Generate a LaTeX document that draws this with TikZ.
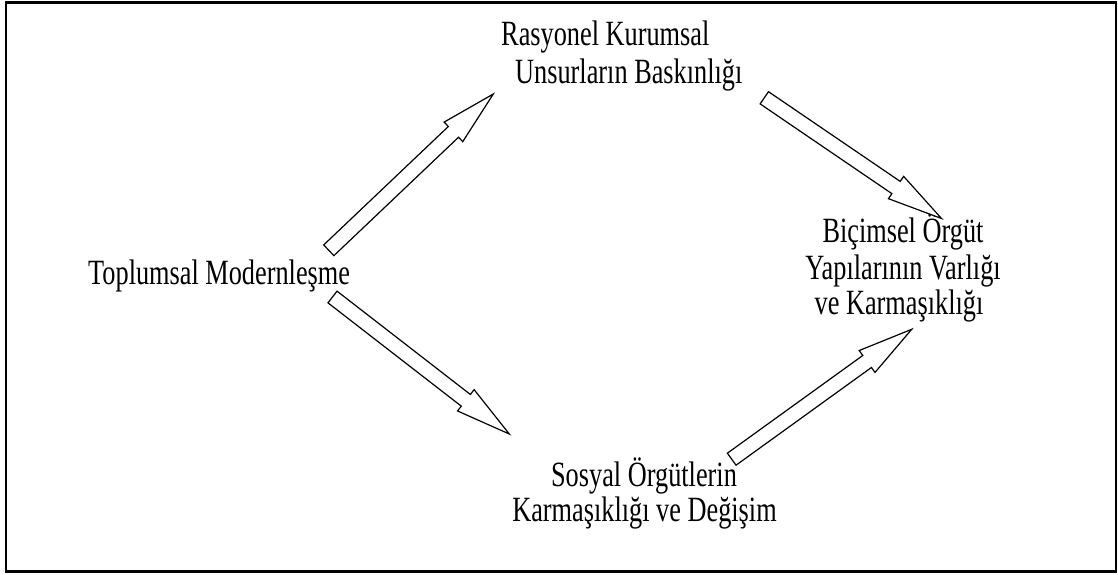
\documentclass[tikz,border=0pt]{standalone}
\usepackage{fontspec}
\usepackage{graphicx}
\setmainfont{Liberation Serif}
\usetikzlibrary{calc}
\newcommand\tall[1]{\scalebox{1}[1.35]{#1}}
% block arrow from tail coordinate #1 to tip coordinate #2
\newcommand\blockarrow[2]{%
  \coordinate (hb) at ($(#2)!55pt!(#1)$);
  \draw[barrow]
    ($(#1)!7.4pt!90:(#2)$) --
    ($(hb)!7.4pt!-90:(#1)$) --
    ($(hb)!13.5pt!-90:(#1)$) --
    (#2) --
    ($(hb)!13.5pt!90:(#1)$) --
    ($(hb)!7.4pt!90:(#1)$) --
    ($(#1)!7.4pt!-90:(#2)$) -- cycle;}
\begin{document}
\begin{tikzpicture}[x=1pt,y=1pt,
  lbl/.style={inner sep=0pt, font=\fontsize{26.3}{27}\selectfont},
  barrow/.style={draw=black, fill=white, line width=1.2pt, line join=miter},
  frame/.style={draw=black, line width=2.5pt}]
\useasboundingbox (0,0) rectangle (1118,575);
\draw[frame] (6,572.5) rectangle (1116,3.5);

% labels
\node[lbl, anchor=base west] (top1) at (501,529) {\tall{Rasyonel Kurumsal}};
\node[lbl, anchor=base west] (top2) at (515,491) {\tall{Unsurların Baskınlığı}};
\node[lbl, anchor=base west] (left) at (88,290) {\tall{Toplumsal Modernleşme}};
\node[lbl, anchor=base] (right1) at (903,332) {\tall{Biçimsel Örgüt}};
\node[lbl, anchor=base] (right2) at (903,295) {\tall{Yapılarının Varlığı}};
\node[lbl, anchor=base] (right3) at (899,260) {\tall{ve Karmaşıklığı}};
\node[lbl, anchor=base] (bot1) at (644,88) {\tall{Sosyal Örgütlerin}};
\node[lbl, anchor=base] (bot2) at (644.5,53) {\tall{Karmaşıklığı ve Değişim}};

% arrow end points
\coordinate (a1t) at (328.8,324.7);
\coordinate (a1h) at (493.3,481);
\coordinate (a2t) at (764.3,477.2);
\coordinate (a2h) at (941.5,356.5);
\coordinate (a3t) at (332.5,278);
\coordinate (a3h) at (509.3,141);
\coordinate (a4t) at (731.7,115.8);
\coordinate (a4h) at (911.7,245.7);

\blockarrow{a1t}{a1h}
\blockarrow{a2t}{a2h}
\blockarrow{a3t}{a3h}
\blockarrow{a4t}{a4h}
\end{tikzpicture}
\end{document}
